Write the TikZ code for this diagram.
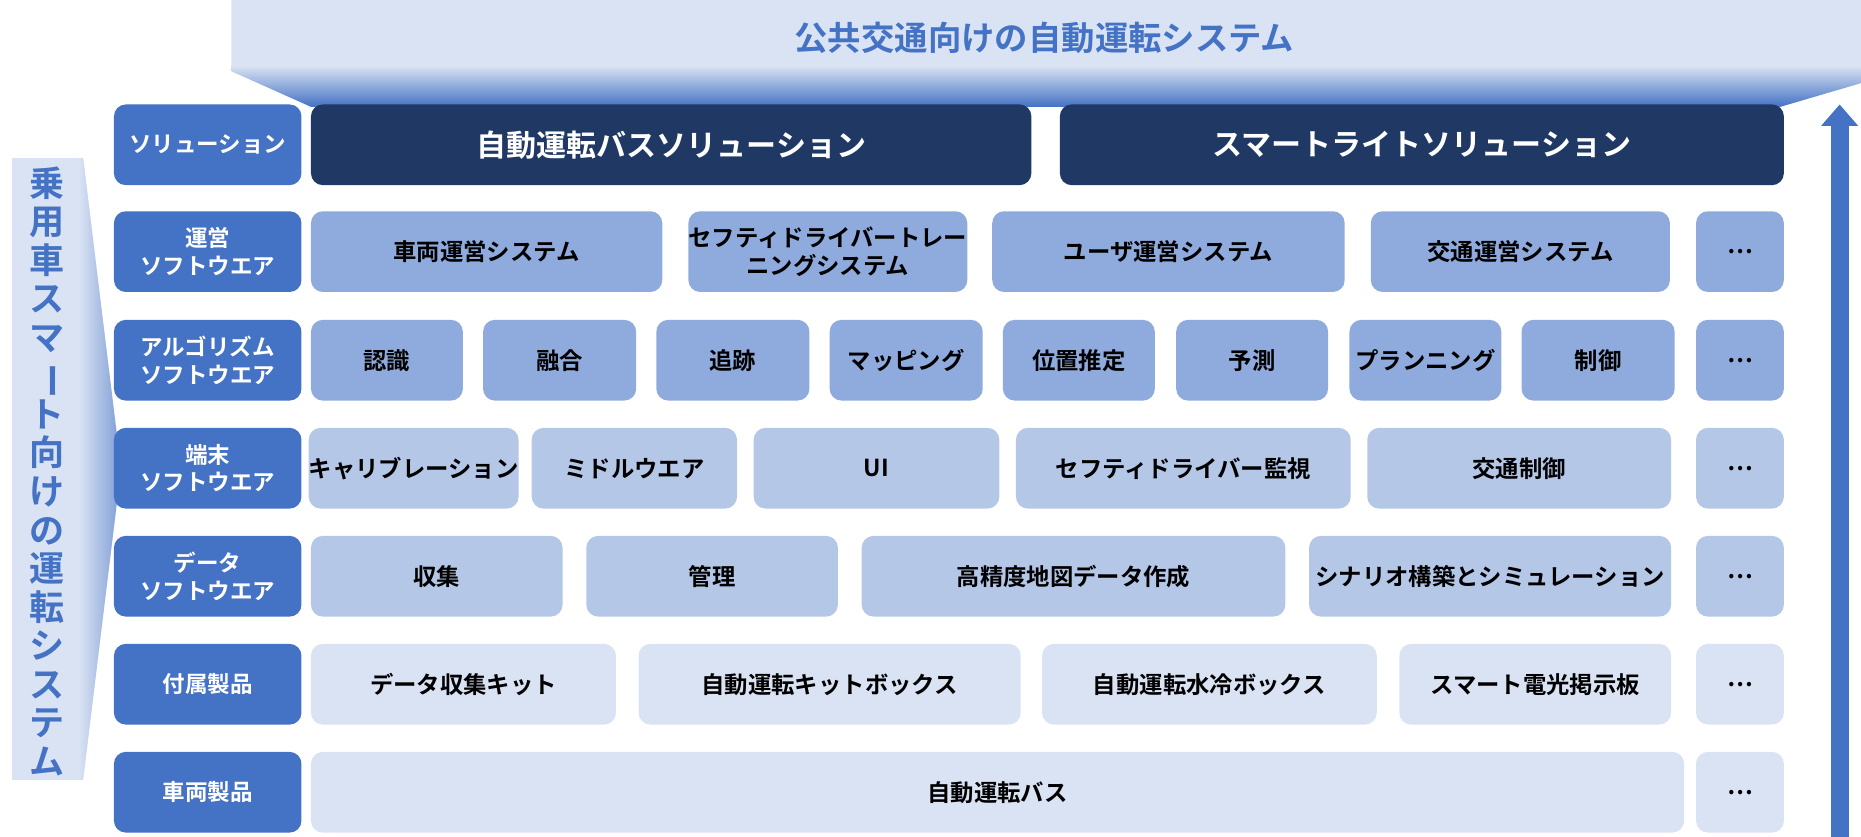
\documentclass[tikz,border=0pt]{standalone}
\usepackage{fontspec}
\setmainfont{Noto Sans CJK JP}[BoldFont={* Bold}]
\usetikzlibrary{arrows.meta}
\definecolor{darkblue}{HTML}{203864}
\definecolor{midblue}{HTML}{4472C4}
\definecolor{blueA}{HTML}{8FAADC}
\definecolor{blueB}{HTML}{B4C7E7}
\definecolor{blueC}{HTML}{DAE3F3}
\tikzset{
  cell/.style={rounded corners=0.25cm, inner sep=0pt, align=center, font=\bfseries\fontsize{14}{17}\selectfont, text=black},
  labelcell/.style={cell, fill=midblue, text=white, font=\bfseries\fontsize{13.5}{16.5}\selectfont},
  solcell/.style={cell, fill=darkblue, text=white, font=\bfseries\fontsize{18}{21}\selectfont},
  cellA/.style={cell, fill=blueA},
  cellB/.style={cell, fill=blueB},
  cellC/.style={cell, fill=blueC},
}
% style, name, left, right, row centre, text
\newcommand\blk[6]{\node[#1, minimum width={(#4-#3)*0.025cm}, minimum height=1.7cm] (#2) at ({(#3+#4)/2},#5) {#6};}
\newcommand\vbar{\rotatebox[origin=c]{-90}{ー}}
\begin{document}
\begin{tikzpicture}[x=0.025cm,y=-0.025cm]
\useasboundingbox (0,0) rectangle (1568,705);

% top banner
\begin{scope}
\clip (195,0) -- (1568,0) -- (1568,70) -- (1500,90) -- (262,90) -- (195,60) -- cycle;
\fill[blueC] (195,0) rectangle (1568,90);
\shade[top color=blueC, bottom color=midblue] (195,55) rectangle (1568,90);
\end{scope}
\node[text=midblue, font=\bfseries\fontsize{20}{24}\selectfont] (title) at (880,32) {公共交通向けの自動運転システム};

% left banner
\begin{scope}
\clip (10,133) -- (70,133) -- (102,395) -- (70,657) -- (10,657) -- cycle;
\fill[blueC] (10,133) rectangle (102,657);
\shade[left color=blueC, right color=midblue!70] (66,133) rectangle (102,657);
\end{scope}
\node[text=midblue, align=center, inner sep=0pt, font=\bfseries\fontsize{21}{23.1}\selectfont] (side) at (40,397)
  {乗\\用\\車\\ス\\マ\\\vbar\\ト\\向\\け\\の\\運\\転\\シ\\ス\\テ\\ム};

% right arrow
\coordinate (abot) at (1550,705);
\coordinate (atop) at (1550,88);
\draw[midblue, line width=0.38cm, -{Triangle[width=0.75cm,length=0.45cm]}] (abot) -- (atop);

% row labels
\blk{labelcell}{l1}{96}{254}{122}{ソリューション}
\blk{labelcell}{l2}{96}{254}{212}{運営\\ソフトウエア}
\blk{labelcell}{l3}{96}{254}{303.5}{アルゴリズム\\ソフトウエア}
\blk{labelcell}{l4}{96}{254}{394.5}{端末\\ソフトウエア}
\blk{labelcell}{l5}{96}{254}{485.5}{データ\\ソフトウエア}
\blk{labelcell}{l6}{96}{254}{576.5}{付属製品}
\blk{labelcell}{l7}{96}{254}{667.5}{車両製品}

% solutions
\blk{solcell}{sBus}{262}{869}{122}{自動運転バスソリューション}
\blk{solcell}{sLight}{893}{1503}{122}{スマートライトソリューション}

% operation software
\blk{cellA}{op1}{262}{558}{212}{車両運営システム}
\blk{cellA}{op2}{580}{815}{212}{セフティドライバートレー\\ニングシステム}
\blk{cellA}{op3}{836}{1133}{212}{ユーザ運営システム}
\blk{cellA}{op4}{1155}{1407}{212}{交通運営システム}
\blk{cellA}{op5}{1429}{1503}{212}{…}

% algorithm software
\blk{cellA}{al1}{262}{390}{303.5}{認識}
\blk{cellA}{al2}{407}{536}{303.5}{融合}
\blk{cellA}{al3}{553}{682}{303.5}{追跡}
\blk{cellA}{al4}{699}{828}{303.5}{マッピング}
\blk{cellA}{al5}{845}{973}{303.5}{位置推定}
\blk{cellA}{al6}{991}{1119}{303.5}{予測}
\blk{cellA}{al7}{1137}{1265}{303.5}{プランニング}
\blk{cellA}{al8}{1282}{1411}{303.5}{制御}
\blk{cellA}{al9}{1429}{1503}{303.5}{…}

% terminal software
\blk{cellB}{te1}{262}{435}{394.5}{キャリブレーション}
\blk{cellB}{te2}{448}{621}{394.5}{ミドルウエア}
\blk{cellB}{te3}{635}{842}{394.5}{UI}
\blk{cellB}{te4}{856}{1138}{394.5}{セフティドライバー監視}
\blk{cellB}{te5}{1152}{1408}{394.5}{交通制御}
\blk{cellB}{te6}{1429}{1503}{394.5}{…}

% data software
\blk{cellB}{da1}{262}{474}{485.5}{収集}
\blk{cellB}{da2}{494}{706}{485.5}{管理}
\blk{cellB}{da3}{726}{1083}{485.5}{高精度地図データ作成}
\blk{cellB}{da4}{1103}{1408}{485.5}{シナリオ構築とシミュレーション}
\blk{cellB}{da5}{1429}{1503}{485.5}{…}

% accessories
\blk{cellC}{ac1}{262}{519}{576.5}{データ収集キット}
\blk{cellC}{ac2}{538}{860}{576.5}{自動運転キットボックス}
\blk{cellC}{ac3}{878}{1160}{576.5}{自動運転水冷ボックス}
\blk{cellC}{ac4}{1179}{1408}{576.5}{スマート電光掲示板}
\blk{cellC}{ac5}{1429}{1503}{576.5}{…}

% vehicles
\blk{cellC}{ve1}{262}{1419}{667.5}{自動運転バス}
\blk{cellC}{ve2}{1429}{1503}{667.5}{…}
\end{tikzpicture}
\end{document}
